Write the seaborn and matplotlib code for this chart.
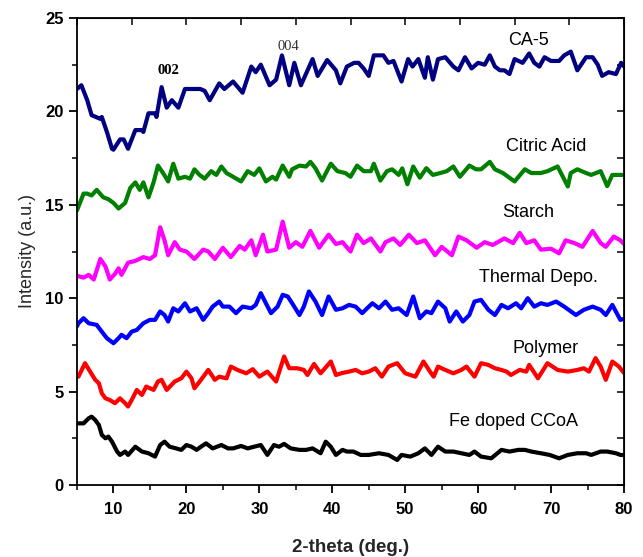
import numpy as np
import pandas as pd
import matplotlib
matplotlib.use("Agg")
import matplotlib.pyplot as plt
import seaborn as sns
from matplotlib.ticker import MultipleLocator

# ---- data (2-theta, intensity) ----
ca5 = [(5,21.2),(5.6,21.4),(6.4,20.6),(7,19.8),(8.2,19.6),(8.4,19.7),(9.1,18.9),(9.8,18.0),(10,17.95),
       (10.9,18.5),(11.4,18.5),(12,18.0),(13,19.0),(13.9,19.0),(14.1,18.9),(14.8,19.9),(15.7,19.9),(15.9,19.7),
       (16.6,21.3),(17.3,20.2),(18,20.6),(18.9,20.2),(19.8,21.2),(21.9,21.2),(22.5,21.1),(23.2,20.6),(24.5,21.5),
       (25.2,21.2),(26.4,21.6),(27.7,21.0),(28.9,22.4),(29.5,22.1),(30.2,22.5),(31.4,21.4),(32.3,21.7),(33.1,23.0),
       (34.1,21.4),(34.8,22.6),(35.7,21.4),(37.3,22.8),(38,21.9),(39.3,22.75),(40.5,22.2),(41.1,21.5),(42,22.4),
       (43,22.6),(43.6,22.6),(44.3,22.3),(45,21.9),(45.7,23.0),(47,23.0),(47.7,22.6),(48.4,22.7),(49.5,21.6),
       (50.4,22.8),(51,22.4),(51.8,22.8),(52.7,21.8),(53.1,22.9),(53.8,21.7),(54.5,22.8),(55.5,22.9),(56.6,22.4),
       (57.3,22.2),(58.2,22.9),(59.1,22.3),(60,22.6),(60.9,22.5),(61.6,23.0),(62.3,22.4),(63,22.2),(63.6,22.2),
       (64.3,22.0),(65,22.8),(66.1,22.6),(67,23.1),(67.7,22.6),(68.4,22.4),(69.1,22.9),(70,22.7),(71.1,22.7),
       (71.8,23.0),(72.7,23.2),(73.6,22.2),(74.8,22.9),(75.7,22.9),(76.4,22.5),(77,21.9),(77.9,22.1),(78.9,22.0),
       (79.6,22.6),(80,22.4)]

citric = [(5,14.7),(5.2,14.9),(5.9,15.6),(6.4,15.6),(7,15.5),(7.7,15.8),(8.6,15.4),(9.3,15.3),(10,15.1),
          (10.7,14.8),(11.6,15.1),(12.3,15.9),(13,16.2),(13.6,15.8),(14.1,16.2),(14.8,15.4),(15.5,16.2),(16.1,17.1),
          (16.8,16.7),(17.5,16.25),(18.2,17.2),(18.9,16.4),(19.8,16.5),(20.5,16.4),(21.1,16.9),(21.8,16.6),
          (22.5,16.4),(23.4,16.8),(24.1,16.6),(24.8,17.05),(25.5,16.7),(26.4,16.5),(27.5,16.25),(28.4,16.8),
          (29.3,16.6),(30,16.95),(30.9,16.25),(31.8,16.5),(32.3,16.35),(33.2,17.1),(34.1,16.5),(34.5,16.9),
          (35.5,17.1),(36.4,17.05),(37,17.3),(37.7,16.95),(38.6,16.3),(39.8,17.2),(40.7,16.8),(41.8,16.7),
          (42.5,16.5),(43.4,17.1),(44.3,16.8),(45.3,16.8),(45.7,17.2),(46.6,16.3),(47.5,16.8),(48.2,16.9),
          (49.1,16.6),(49.6,16.95),(50.3,16.1),(51.1,17.05),(52,16.45),(52.9,16.96),(53.8,16.6),(54.8,16.7),
          (55.7,16.8),(56.6,17.05),(57.5,16.5),(58.8,17.1),(59.7,16.9),(60.4,16.9),(61.6,17.3),(62.3,16.9),
          (63.4,16.7),(65,16.25),(66.4,16.9),(67.3,16.7),(68.6,16.7),(69.5,16.8),(70.9,17.05),(72.3,15.98),
          (72.7,16.7),(73.6,16.9),(74.8,16.7),(75.5,16.6),(76.8,16.8),(77.7,16.0),(78.4,16.6),(79.5,16.6),(80,16.6)]

starch = [(5,11.2),(5.9,11.1),(6.6,11.25),(7.3,11.0),(8.2,12.1),(8.9,11.7),(9.5,11.0),(10.2,11.3),(10.7,11.6),
          (11.1,11.25),(12,11.9),(13,12.0),(14.1,12.2),(15,12.1),(15.7,12.3),(16.4,13.8),(17,13.1),(17.5,12.3),
          (18.4,13.0),(19.1,12.6),(20,12.5),(21.1,12.1),(22.3,12.6),(23,12.5),(23.9,12.1),(25,12.7),(26.1,12.2),
          (27.3,12.8),(28,12.6),(28.9,13.1),(29.5,12.3),(30.5,13.4),(31.1,12.5),(32.3,12.6),(33.2,14.1),(34.1,12.7),
          (35,13.0),(35.9,12.75),(37,13.6),(38.2,12.7),(39.5,13.4),(40.5,12.9),(41.4,13.0),(42.5,12.5),(43.4,13.4),
          (44.3,12.95),(45.3,13.2),(46.6,12.5),(47.3,13.0),(48.4,13.2),(49.3,12.85),(50.5,13.4),(51.6,12.95),
          (52.7,13.1),(54.1,12.3),(55,12.75),(56.4,12.3),(57.3,13.3),(58.4,13.1),(59.8,12.7),(60.9,13.0),(62,12.85),
          (63.6,13.2),(64.8,12.95),(65.7,13.5),(66.6,12.95),(67.7,13.1),(68.6,12.6),(70,12.65),(71.1,12.4),(72,13.1),
          (73.2,12.95),(74.3,12.75),(75.7,13.6),(76.8,12.95),(77.5,12.75),(78.6,13.3),(79.5,13.1),(80,12.9)]

thermal = [(5,8.5),(5.2,8.66),(5.9,8.93),(6.6,8.66),(7.7,8.57),(8.4,8.21),(9.1,7.86),(10,7.59),(10.7,7.86),
           (11.1,8.04),(11.8,7.86),(12.5,8.21),(13.2,8.3),(14.1,8.66),(15,8.84),(15.7,8.84),(16.4,9.29),(17,9.1),
           (17.5,8.75),(18.2,9.46),(18.9,9.29),(19.8,9.73),(20.5,9.29),(21.4,9.46),(22.3,8.84),(23,9.2),(23.6,9.55),
           (24.5,9.82),(25,9.55),(25.9,9.55),(26.8,9.2),(27.7,9.55),(28.9,9.46),(29.5,9.64),(30.2,10.27),(30.9,9.73),
           (31.6,9.2),(32.5,9.55),(33.2,10.18),(33.9,10.09),(34.5,9.73),(35.5,9.1),(36.1,9.55),(36.8,10.36),
           (37.7,9.82),(38.6,9.1),(39.5,10.09),(40.5,9.38),(41.4,9.46),(42.3,9.64),(43.2,9.55),(44.1,9.2),
           (45.5,9.73),(46.4,9.46),(47.3,9.82),(48.2,9.38),(49.1,9.46),(50.2,9.1),(51.1,10.09),(52,8.93),
           (52.9,9.29),(53.6,9.2),(54.5,9.82),(55.5,9.46),(56.1,8.75),(57,9.29),(57.9,8.75),(58.8,9.1),(59.5,9.82),
           (60.4,9.91),(61.4,9.38),(62.3,9.1),(63.2,9.64),(64.1,9.46),(65.2,9.73),(65.9,9.46),(66.8,10.0),
           (67.7,9.55),(68.6,9.73),(69.5,9.64),(70.7,9.82),(71.8,9.55),(73.4,9.1),(74.5,9.38),(75.7,9.55),
           (76.8,9.38),(77.5,9.1),(78.4,9.64),(79.5,8.84),(80,8.9)]

polymer = [(5,5.8),(5.2,5.8),(6.1,6.52),(6.8,6.07),(7.5,5.63),(8,5.45),(8.4,4.91),(8.9,4.64),(9.5,4.55),
           (10.2,4.38),(10.9,4.64),(11.6,4.38),(12,4.2),(12.5,4.55),(13.2,5.09),(13.9,4.82),(14.5,5.27),(15.5,5.09),
           (16.1,5.54),(16.6,5.63),(17.3,5.09),(18.4,5.54),(19.3,5.71),(20,6.07),(20.7,5.71),(21.1,5.18),(22,5.63),
           (23,6.16),(23.9,5.63),(24.5,5.8),(25.5,5.71),(26.1,6.34),(27,6.16),(28.2,5.98),(29.1,6.2),(30,5.8),
           (31.1,6.07),(32.3,5.54),(33.4,6.88),(34.1,6.25),(35.2,6.25),(36.1,6.16),(36.6,5.89),(37.5,6.48),
           (38.4,5.98),(39.8,6.61),(40.5,5.89),(41.4,6.0),(42.3,6.07),(43.2,6.16),(44.1,5.98),(45,6.07),(45.9,6.25),
           (46.8,5.8),(47.7,6.34),(48.9,6.52),(50,5.98),(51.4,5.8),(52.5,6.61),(53.4,6.07),(53.9,5.8),(54.5,6.34),
           (55.5,6.16),(56.6,5.98),(57.7,6.16),(58.4,6.34),(59.5,5.8),(60.4,6.52),(61.4,6.43),(62.3,6.25),
           (63.2,6.16),(63.9,6.07),(64.5,5.89),(65.7,6.16),(66.6,6.07),(67,6.43),(68.2,5.71),(69.5,6.52),(70.9,6.16),
           (72.3,6.07),(73.6,6.16),(74.5,6.25),(75.2,6.07),(76.1,6.79),(76.8,6.34),(77.5,5.63),(78.4,6.61),
           (79.3,6.34),(80,6.0)]

fe_ccoa = [(5,3.3),(5.9,3.3),(6.6,3.57),(7,3.66),(7.5,3.48),(8,3.21),(8.4,2.68),(8.9,2.5),(9.3,2.59),(9.8,2.32),
           (10.5,1.79),(10.9,1.61),(11.6,1.79),(12,1.61),(13,2.05),(13.9,1.79),(14.8,1.7),(15.7,1.52),(16.4,2.14),
           (17,2.32),(17.7,2.05),(18.6,1.96),(19.3,1.88),(20,2.14),(20.7,2.05),(21.4,1.88),(22,2.05),(22.7,2.23),
           (23.6,1.96),(24.8,2.14),(25.7,1.96),(26.4,1.96),(27.5,2.09),(28.4,1.96),(29.3,2.05),(30.2,2.14),
           (31.1,1.61),(32,2.14),(32.7,2.05),(33.4,2.2),(34.3,1.96),(35.5,1.88),(36.4,1.88),(37.3,1.96),(38.4,1.7),
           (39.1,2.32),(39.8,2.05),(40.5,1.61),(41.4,1.88),(42,1.79),(42.9,1.79),(43.9,1.61),(45,1.61),(46.4,1.7),
           (47.7,1.61),(48.9,1.34),(49.5,1.61),(50.7,1.52),(51.8,1.7),(52.7,1.96),(53.6,1.61),(54.5,2.05),
           (55.5,1.79),(56.6,1.79),(57.7,1.7),(58.8,1.61),(59.5,1.79),(60.4,1.52),(61.8,1.43),(63.2,1.88),
           (64.3,1.79),(65.5,1.88),(66.4,1.88),(67.3,1.79),(68.6,1.7),(69.8,1.61),(71.1,1.43),(72.3,1.61),
           (73.6,1.7),(74.8,1.7),(75.5,1.61),(76.8,1.79),(77.7,1.79),(78.9,1.7),(79.5,1.61),(80,1.6)]

series_names = ["CA-5", "Citric Acid", "Starch", "Thermal Depo.", "Polymer", "Fe doped CCoA"]
series_data = [ca5, citric, starch, thermal, polymer, fe_ccoa]
series_colors = ["#000080", "#008000", "#FF00FF", "#0000FF", "#FF0000", "#000000"]
label_pos = [(66.9, 23.8), (69.3, 18.1), (66.9, 14.6), (68.3, 11.1), (69.3, 7.3), (64.8, 3.4)]
peak_labels = [("002", 17.6, 22.2, "bold"), ("004", 34.0, 23.5, "normal")]

rows = []
for name, pts in zip(series_names, series_data):
    for x, y in pts:
        rows.append({"theta": x, "intensity": y, "sample": name})
df = pd.DataFrame(rows)

sns.set_style("ticks")
plt.rcParams["font.family"] = ["Liberation Sans", "DejaVu Sans"]

fig = plt.figure(figsize=(6.43, 5.57), dpi=100)
ax = fig.add_axes([77/643, 1-485/557, (624-77)/643, (485-18)/557])

sns.lineplot(data=df, x="theta", y="intensity", hue="sample", hue_order=series_names,
             palette=dict(zip(series_names, series_colors)), sort=False, estimator=None,
             linewidth=3.0, legend=False, ax=ax)
for ln in ax.get_lines():
    ln.set_solid_joinstyle("round")
    ln.set_solid_capstyle("round")

ax.set_xlim(5, 80)
ax.set_ylim(0, 25)
ax.xaxis.set_major_locator(MultipleLocator(10))
ax.xaxis.set_minor_locator(MultipleLocator(5))
ax.yaxis.set_major_locator(MultipleLocator(5))
ax.yaxis.set_minor_locator(MultipleLocator(2.5))
ax.set_xticks(np.arange(10, 81, 10))

num_family = ["Liberation Sans Narrow", "Liberation Sans", "DejaVu Sans"]
ax.tick_params(axis="both", which="major", direction="out", length=6, width=1.3, colors="black")
ax.tick_params(axis="x", which="major", pad=6)
ax.tick_params(axis="both", which="minor", direction="out", length=3.5, width=1.3)
for lab in ax.get_xticklabels() + ax.get_yticklabels():
    lab.set_fontfamily(num_family)
    lab.set_fontweight("bold")
    lab.set_fontsize(12)

for sp in ax.spines.values():
    sp.set_visible(True)
    sp.set_linewidth(1.3)
    sp.set_color("black")

# mirrored inward ticks on top and right
top = ax.secondary_xaxis("top")
top.set_xticks(np.arange(5, 80.1, 7.5))
top.tick_params(direction="in", length=5, width=1.3, labeltop=False)
top.set_xticklabels([])
right = ax.secondary_yaxis("right")
right.set_yticks(np.arange(0, 25.1, 2.5))
right.tick_params(direction="in", length=5, width=1.3, labelright=False)
right.set_yticklabels([])

ax.set_xlabel("2-theta (deg.)", fontsize=13.5, fontweight="bold",
              fontfamily=num_family, labelpad=16)
ax.set_ylabel("Intensity (a.u.)", fontsize=13, fontfamily=["Liberation Sans", "DejaVu Sans"], labelpad=7)

for (name, (lx, ly)) in zip(series_names, label_pos):
    ax.text(lx, ly, name, ha="center", va="center", fontsize=13,
            fontfamily=["Liberation Sans", "DejaVu Sans"], color="black")

for txt, px, py, w in peak_labels:
    ax.text(px, py, txt, ha="center", va="center", fontsize=10.5, fontweight=w,
            fontfamily=["Liberation Serif", "DejaVu Serif"],
            color="black" if w == "bold" else "#333333")

fig.savefig("out.png", dpi=100)
